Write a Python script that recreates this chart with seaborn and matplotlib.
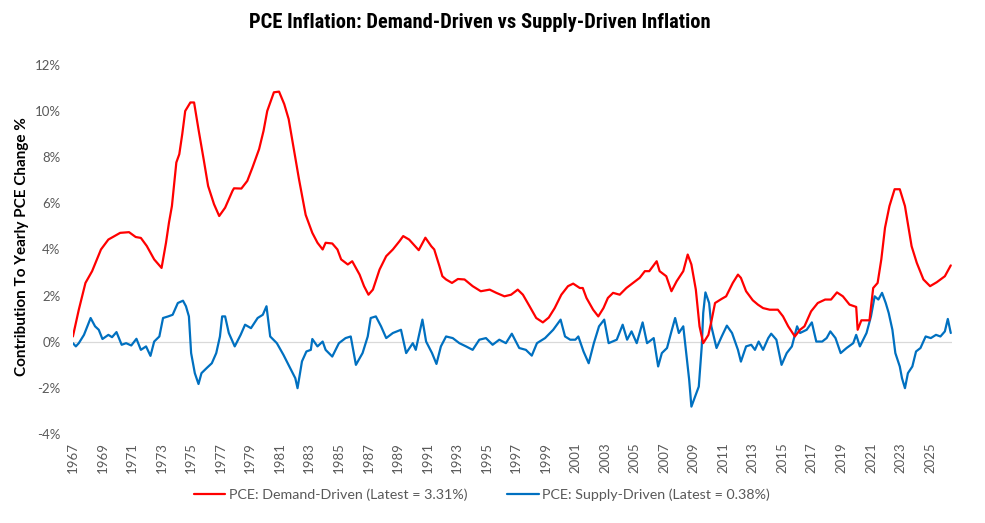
import matplotlib
matplotlib.use("Agg")
import matplotlib.pyplot as plt
import seaborn as sns
import pandas as pd
from matplotlib import font_manager
from matplotlib.ticker import FuncFormatter

# ====================
# DATA
# ====================
demand_years = [
    1967.0, 1967.4, 1967.85, 1968.3, 1968.9, 1969.4, 1970.2, 1970.8, 1971.25, 1971.6,
    1972.0, 1972.5, 1973.0, 1973.3, 1973.5, 1973.7, 1974.0, 1974.2, 1974.4, 1974.6,
    1974.95, 1975.2, 1975.5, 1975.85, 1976.15, 1976.55, 1976.9, 1977.3, 1977.8, 1977.9,
    1978.4, 1978.8, 1979.15, 1979.6, 1979.9, 1980.15, 1980.6, 1980.95, 1981.3, 1981.6,
    1981.95, 1982.3, 1982.75, 1983.2, 1983.55, 1983.9, 1984.1, 1984.55, 1984.9, 1985.15,
    1985.6, 1985.9, 1986.4, 1986.7, 1987.0, 1987.3, 1987.75, 1988.2, 1988.65, 1989.1,
    1989.35, 1989.75, 1990.4, 1990.85, 1991.25, 1991.45, 1991.8, 1992.0, 1992.25, 1992.65,
    1993.05, 1993.5, 1994.05, 1994.6, 1995.2, 1995.65, 1996.2, 1996.65, 1997.1, 1997.45,
    1997.9, 1998.35, 1998.8, 1999.2, 1999.6, 2000.05, 2000.5, 2000.85, 2001.3, 2001.5,
    2001.75, 2002.2, 2002.55, 2002.9, 2003.2, 2003.55, 2004.0, 2004.45, 2004.9, 2005.35,
    2005.7, 2006.0, 2006.5, 2006.7, 2007.15, 2007.5, 2007.85, 2008.3, 2008.6, 2008.85,
    2009.15, 2009.4, 2009.65, 2010.0, 2010.2, 2010.45, 2010.9, 2011.2, 2011.65, 2012.0,
    2012.2, 2012.55, 2013.0, 2013.35, 2013.7, 2014.15, 2014.7, 2015.05, 2015.4, 2015.85,
    2016.2, 2016.5, 2016.95, 2017.4, 2017.9, 2018.3, 2018.7, 2019.1, 2019.55, 2020.0,
    2020.1, 2020.35, 2020.9, 2021.15, 2021.45, 2021.7, 2021.95, 2022.25, 2022.6, 2022.95,
    2023.3, 2023.75, 2024.1, 2024.55, 2025.0, 2025.45, 2026.0, 2026.4,
]
demand_values = [
    0.23, 1.39, 2.55, 3.06, 4.0, 4.43, 4.72, 4.75, 4.54, 4.5,
    4.15, 3.57, 3.2, 4.29, 5.16, 5.88, 7.77, 8.13, 9.0, 10.0,
    10.37, 10.37, 9.2, 7.9, 6.75, 5.96, 5.45, 5.81, 6.54, 6.65,
    6.64, 6.97, 7.55, 8.35, 9.14, 10.0, 10.81, 10.84, 10.3, 9.65,
    8.35, 7.04, 5.5, 4.72, 4.29, 4.0, 4.29, 4.26, 4.0, 3.57,
    3.35, 3.49, 2.91, 2.41, 2.04, 2.26, 3.13, 3.71, 4.0, 4.36,
    4.58, 4.43, 3.97, 4.51, 4.14, 4.0, 3.28, 2.84, 2.7, 2.55,
    2.72, 2.7, 2.41, 2.19, 2.26, 2.12, 1.97, 2.04, 2.26, 2.04,
    1.54, 1.03, 0.84, 1.05, 1.46, 2.04, 2.41, 2.52, 2.33, 2.33,
    1.9, 1.39, 1.1, 1.46, 1.9, 2.12, 2.04, 2.33, 2.55, 2.77,
    3.06, 3.06, 3.49, 3.06, 2.84, 2.19, 2.62, 3.06, 3.78, 3.35,
    2.26, 0.67, -0.06, 0.3, 0.88, 1.68, 1.86, 1.97, 2.55, 2.91,
    2.77, 2.19, 1.8, 1.61, 1.46, 1.39, 1.39, 1.1, 0.67, 0.23,
    0.52, 0.67, 1.32, 1.68, 1.83, 1.83, 2.14, 1.97, 1.61, 1.51,
    0.52, 0.93, 0.93, 2.33, 2.55, 3.57, 4.94, 5.88, 6.61, 6.61,
    5.88, 4.14, 3.42, 2.7, 2.41, 2.58, 2.84, 3.31,
]

supply_years = [
    1967.0, 1967.2, 1967.4, 1967.75, 1968.2, 1968.5, 1968.75, 1969.0, 1969.4, 1969.65,
    1969.95, 1970.3, 1970.6, 1970.95, 1971.3, 1971.6, 1971.95, 1972.25, 1972.5, 1972.85,
    1973.1, 1973.45, 1973.75, 1974.1, 1974.45, 1974.65, 1974.85, 1975.0, 1975.25, 1975.5,
    1975.7, 1976.05, 1976.4, 1976.7, 1976.95, 1977.1, 1977.3, 1977.55, 1977.95, 1978.35,
    1978.65, 1979.05, 1979.5, 1979.85, 1980.1, 1980.35, 1980.8, 1981.25, 1981.7, 1982.05,
    1982.2, 1982.5, 1982.8, 1983.1, 1983.2, 1983.55, 1983.9, 1984.1, 1984.55, 1985.0,
    1985.45, 1985.8, 1986.15, 1986.6, 1986.95, 1987.15, 1987.5, 1987.85, 1988.2, 1988.65,
    1989.2, 1989.55, 1990.0, 1990.2, 1990.65, 1990.9, 1991.3, 1991.6, 1991.9, 1992.25,
    1992.7, 1993.15, 1993.6, 1994.05, 1994.5, 1994.95, 1995.4, 1995.85, 1996.3, 1996.7,
    1997.2, 1997.65, 1998.05, 1998.4, 1998.95, 1999.5, 2000.0, 2000.3, 2000.65, 2001.0,
    2001.2, 2001.55, 2001.9, 2002.25, 2002.6, 2002.95, 2003.25, 2003.8, 2004.2, 2004.5,
    2004.8, 2005.15, 2005.55, 2005.85, 2006.3, 2006.6, 2006.85, 2007.2, 2007.5, 2007.75,
    2008.0, 2008.3, 2008.45, 2008.7, 2008.85, 2009.1, 2009.35, 2009.55, 2009.65, 2009.8,
    2010.05, 2010.2, 2010.55, 2010.9, 2011.25, 2011.6, 2012.0, 2012.2, 2012.55, 2012.9,
    2013.15, 2013.4, 2013.7, 2014.05, 2014.25, 2014.6, 2014.95, 2015.3, 2015.65, 2016.0,
    2016.2, 2016.65, 2017.0, 2017.3, 2017.7, 2018.0, 2018.25, 2018.6, 2018.95, 2019.35,
    2019.8, 2020.0, 2020.25, 2020.7, 2021.0, 2021.25, 2021.5, 2021.75, 2022.0, 2022.2,
    2022.45, 2022.65, 2022.95, 2023.1, 2023.3, 2023.5, 2023.8, 2024.05, 2024.35, 2024.7,
    2025.05, 2025.4, 2025.7, 2026.0, 2026.2, 2026.4,
]
supply_values = [
    -0.06, -0.2, -0.06, 0.3, 1.03, 0.67, 0.52, 0.12, 0.3, 0.2,
    0.42, -0.13, -0.06, -0.16, 0.13, -0.35, -0.2, -0.61, 0.01, 0.23,
    1.03, 1.1, 1.17, 1.68, 1.78, 1.54, 1.1, -0.49, -1.36, -1.83,
    -1.36, -1.14, -0.93, -0.49, 0.23, 1.1, 1.1, 0.38, -0.2, 0.3,
    0.74, 0.59, 1.03, 1.17, 1.54, 0.23, -0.06, -0.57, -1.14, -1.58,
    -2.01, -0.85, -0.42, -0.35, 0.12, -0.2, 0.01, -0.35, -0.64, -0.06,
    0.16, 0.23, -1.0, -0.49, 0.23, 1.03, 1.1, 0.67, 0.16, 0.38,
    0.52, -0.49, -0.06, -0.35, 0.96, 0.01, -0.49, -0.96, -0.2, 0.23,
    0.16, -0.06, -0.2, -0.35, 0.09, 0.16, -0.13, 0.09, -0.06, 0.35,
    -0.27, -0.35, -0.6, -0.06, 0.16, 0.52, 0.96, 0.23, 0.09, 0.09,
    0.23, -0.42, -0.93, -0.06, 0.67, 0.96, -0.06, 0.09, 0.74, 0.09,
    0.45, -0.06, 0.84, -0.06, 0.16, -1.07, -0.49, -0.27, 0.45, 1.03,
    0.38, 0.67, -0.2, -1.65, -2.81, -2.38, -1.94, -0.2, 1.25, 2.14,
    1.68, 0.67, -0.27, 0.23, 0.7, 0.38, -0.35, -0.86, -0.2, -0.13,
    -0.35, 0.01, -0.35, 0.16, 0.35, 0.09, -1.0, -0.49, -0.2, 0.67,
    0.38, 0.52, 0.84, 0.01, 0.01, 0.16, 0.45, 0.16, -0.49, -0.27,
    -0.06, 0.3, -0.2, 0.38, 1.1, 1.97, 1.83, 2.12, 1.68, 1.25,
    0.52, -0.49, -1.07, -1.58, -2.01, -1.36, -1.07, -0.42, -0.27, 0.23,
    0.16, 0.3, 0.23, 0.45, 0.99, 0.38,
]

demand_label = "PCE: Demand-Driven (Latest = 3.31%)"
supply_label = "PCE: Supply-Driven (Latest = 0.38%)"
title = "PCE Inflation: Demand-Driven vs Supply-Driven Inflation"
year_ticks = list(range(1967, 2026, 2))

# ====================
# STYLE
# ====================
sns.set_theme(style="white")
plt.rcParams["font.family"] = ["Lato", "DejaVu Sans"]
plt.rcParams["axes.unicode_minus"] = False

grey = "#595959"
red = "#FF0000"
blue = "#0070C0"

# narrowest installed face for the title
installed = {(f.name, f.stretch) for f in font_manager.fontManager.ttflist}
names = {n for n, _ in installed}
title_font = {"family": ["DejaVu Sans"], "stretch": "normal"}
for cand in ["Liberation Sans Narrow", "Roboto Condensed", "Open Sans Condensed"]:
    if cand in names:
        title_font = {"family": [cand, "DejaVu Sans"], "stretch": "normal"}
        break
else:
    if ("DejaVu Sans", "condensed") in installed or ("DejaVu Sans", 700) in installed:
        title_font = {"family": ["DejaVu Sans"], "stretch": "condensed"}

df_demand = pd.DataFrame({"Year": demand_years, "Value": demand_values})
df_supply = pd.DataFrame({"Year": supply_years, "Value": supply_values})

fig = plt.figure(figsize=(9.85, 5.23), dpi=100)
ax = fig.add_axes([0.074, 0.170, 0.892, 0.706])

ax.axhline(0, color="#D9D9D9", lw=0.9, zorder=1)
sns.lineplot(data=df_demand, x="Year", y="Value", ax=ax, color=red, lw=1.6,
             label=demand_label, legend=False, zorder=3)
sns.lineplot(data=df_supply, x="Year", y="Value", ax=ax, color=blue, lw=1.6,
             label=supply_label, legend=False, zorder=2)

ax.set_xlim(1967.0, 2026.45)
ax.set_ylim(-4, 12)
ax.set_yticks([-4, -2, 0, 2, 4, 6, 8, 10, 12])
ax.yaxis.set_major_formatter(FuncFormatter(lambda v, p: f"{v:.0f}%"))
ax.set_xticks(year_ticks)
ax.set_xticklabels([str(y) for y in year_ticks], rotation=90)
ax.tick_params(axis="y", length=0, pad=9, labelsize=9.5, labelcolor=grey)
ax.tick_params(axis="x", length=0, pad=6, labelsize=9.5, labelcolor=grey)
ax.set_xlabel("")
ax.set_ylabel("")
for s in ax.spines.values():
    s.set_visible(False)

fig.text(22 / 985, 0.5287, "Contribution To Yearly PCE Change %", rotation=90,
         ha="center", va="center", fontsize=11, fontweight="bold", color="black")

t = fig.text(480 / 985, 1 - 22 / 523, title, ha="center", va="center",
             fontsize=17, fontweight="bold", color="black",
             family=title_font["family"], fontstretch=title_font["stretch"])
# shrink the title until it spans about the same width as the reference
renderer = fig.canvas.get_renderer()
size = 17
while t.get_window_extent(renderer).width > 466 and size > 9:
    size -= 0.25
    t.set_fontsize(size)

handles, labels = ax.get_legend_handles_labels()
fig.legend(handles, labels, loc="center", bbox_to_anchor=(482 / 985, 1 - 495 / 523),
           ncol=2, frameon=False, fontsize=10.3, labelcolor=grey,
           handlelength=2.2, handletextpad=0.25, columnspacing=2.8)

plt.savefig("out.png", dpi=100)
plt.close()
